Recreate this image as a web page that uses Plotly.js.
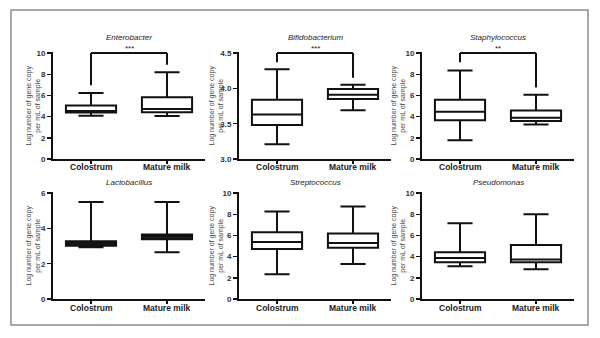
<!DOCTYPE html>
<html>
<head>
<meta charset="utf-8">
<script src="https://cdn.plot.ly/plotly-3.0.1.min.js"></script>
<style>html,body{margin:0;padding:0;background:#fff;}#chart{width:600px;height:338px;}</style>
</head>
<body>
<div id="chart"></div>
<script>
// ---- data ----
const categories = ['Colostrum', 'Mature milk'];
const taxa = ['Enterobacter', 'Bifidobacterium', 'Staphylococcus', 'Lactobacillus', 'Streptococcus', 'Pseudomonas'];
const lowerWhisker = [[4.08, 4.05], [3.21, 3.69], [1.76, 3.25], [2.93, 2.65], [2.34, 3.31], [3.09, 2.81]];
const q1Values     = [[4.39, 4.42], [3.48, 3.85], [3.65, 3.59], [3.02, 3.38], [4.72, 4.84], [3.47, 3.47]];
const medianValues = [[4.52, 4.73], [3.63, 3.91], [4.46, 3.90], [3.15, 3.55], [5.37, 5.28], [3.87, 3.72]];
const q3Values     = [[5.05, 5.83], [3.84, 3.99], [5.60, 4.58], [3.27, 3.65], [6.31, 6.19], [4.41, 5.09]];
const upperWhisker = [[6.23, 8.19], [4.27, 4.05], [8.36, 6.07], [5.50, 5.50], [8.25, 8.72], [7.16, 8.00]];
const yMax = [10, 4.5, 10, 6, 10, 10];
const yMin = [0, 3.0, 0, 0, 0, 0];
const yStep = [2, 0.5, 2, 2, 2, 2];
// significance brackets: panel index, stars, left leg bottom, right leg bottom
const bracketPanels = [0, 1, 2];
const bracketStars = ['***', '***', '**'];
const bracketLeftEnd = [6.95, 4.37, 9.13];
const bracketRightEnd = [8.9, 4.15, 6.75];
const yTitle = 'Log number of gene copy<br>per mL of sample';

// ---- layout geometry (pixels) ----
const W = 600, H = 338;
const colX = [[53, 205], [239, 391], [422, 574]];
const rowY = [[52, 159], [192, 299]];
const titleY = [37, 182];
const xLabelY = [167, 308];
const yTitleOffset = [20, 23, 24];
const px = x => x / W;
const py = y => 1 - y / H;
const FONT = 'Liberation Sans, Arial, sans-serif';

const data = [];
const layout = {
  width: W, height: H,
  margin: {l: 0, r: 0, t: 0, b: 0},
  paper_bgcolor: '#fff', plot_bgcolor: 'rgba(0,0,0,0)',
  showlegend: false,
  shapes: [], annotations: []
};

taxa.forEach((name, i) => {
  const r = Math.floor(i / 3), c = i % 3;
  const n = i + 1;
  const xa = 'xaxis' + (n === 1 ? '' : n), ya = 'yaxis' + (n === 1 ? '' : n);
  const xr = 'x' + (n === 1 ? '' : n), yr = 'y' + (n === 1 ? '' : n);
  const span = yMax[i] - yMin[i];
  const lacto = name === 'Lactobacillus';
  data.push({
    type: 'box', xaxis: xr, yaxis: yr,
    x: categories,
    q1: q1Values[i], median: medianValues[i], q3: q3Values[i],
    lowerfence: lowerWhisker[i], upperfence: upperWhisker[i],
    boxpoints: false, width: 0.66, whiskerwidth: 0.5,
    line: {color: '#111', width: 2},
    fillcolor: lacto ? '#3a1c1c' : 'rgba(255,255,255,0)',
    hoverinfo: 'skip'
  });
  layout[xa] = {
    domain: [px(colX[c][0]), px(colX[c][1])], anchor: yr,
    type: 'category', range: [-0.5, 1.5],
    showline: true, linecolor: '#111', linewidth: 2,
    ticks: 'outside', ticklen: 3, tickwidth: 1.5, tickcolor: '#111',
    showticklabels: false,
    showgrid: false, zeroline: false, fixedrange: true
  };
  layout[ya] = {
    domain: [py(rowY[r][1]), py(rowY[r][0])], anchor: xr,
    range: [yMin[i], yMax[i] + span * 0.01],
    tickvals: Array.from({length: Math.round(span / yStep[i]) + 1}, (_, k) => yMin[i] + k * yStep[i]),
    tickformat: yStep[i] < 1 ? '.1f' : 'd',
    showline: true, linecolor: '#111', linewidth: 2,
    ticks: 'outside', ticklen: 4, tickwidth: 1.5, tickcolor: '#111',
    showgrid: false, zeroline: false, fixedrange: true,
    tickfont: {family: FONT, size: 8, color: '#333', weight: 'bold'}
  };
  // category labels
  categories.forEach((cat, k) => {
    layout.annotations.push({
      xref: xr, yref: 'paper', x: k, y: py(xLabelY[r]),
      text: '<b>' + cat + '</b>', showarrow: false,
      xanchor: 'center', yanchor: 'middle',
      font: {family: FONT, size: 8.5, color: '#222'}
    });
  });
  // panel title
  layout.annotations.push({
    xref: 'paper', yref: 'paper',
    x: px((colX[c][0] + colX[c][1]) / 2), y: py(titleY[r]),
    text: '<i>' + name + '</i>', showarrow: false,
    xanchor: 'center', yanchor: 'middle',
    font: {family: FONT, size: 8, color: '#222'}
  });
  // y-axis title
  layout.annotations.push({
    xref: 'paper', yref: 'paper',
    x: px(colX[c][0] - yTitleOffset[c]), y: py((rowY[r][0] + rowY[r][1]) / 2),
    text: yTitle, showarrow: false, textangle: -90,
    xanchor: 'center', yanchor: 'middle',
    font: {family: FONT, size: 7, color: '#444'}
  });
});

bracketPanels.forEach((p, k) => {
  const n = p + 1;
  const xr = 'x' + (n === 1 ? '' : n), yr = 'y' + (n === 1 ? '' : n);
  const top = yMax[p];
  const ln = {color: '#111', width: 2};
  layout.shapes.push({type: 'line', xref: xr, yref: yr, x0: 0, x1: 1, y0: top, y1: top, line: ln});
  layout.shapes.push({type: 'line', xref: xr, yref: yr, x0: 0, x1: 0, y0: top, y1: bracketLeftEnd[k], line: ln});
  layout.shapes.push({type: 'line', xref: xr, yref: yr, x0: 1, x1: 1, y0: top, y1: bracketRightEnd[k], line: ln});
  layout.annotations.push({
    xref: xr, yref: yr, x: 0.5, y: top, yanchor: 'bottom', yshift: -2,
    text: bracketStars[k], showarrow: false,
    font: {family: FONT, size: 8, color: '#222'}
  });
});

// outer frame
layout.shapes.push({
  type: 'rect', xref: 'paper', yref: 'paper',
  x0: px(11), x1: px(588), y0: py(325), y1: py(10),
  line: {color: '#8c8c8c', width: 1.5}, layer: 'below'
});

Plotly.newPlot('chart', data, layout, {staticPlot: true, displayModeBar: false});
</script>
</body>
</html>
